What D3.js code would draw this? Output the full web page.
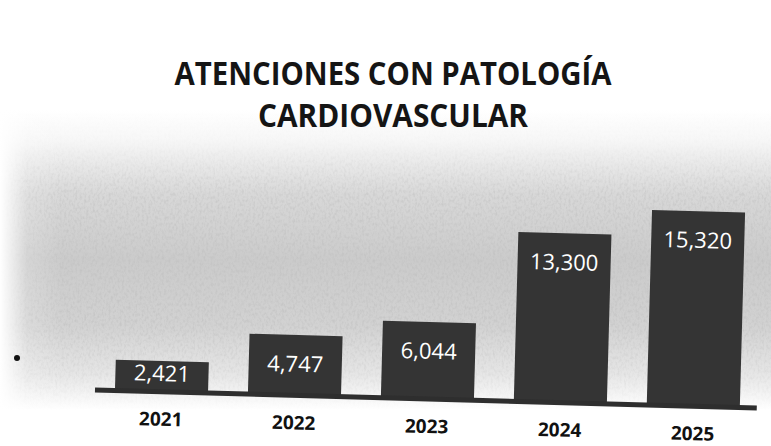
<!DOCTYPE html>
<html>
<head>
<meta charset="utf-8">
<script src="https://cdn.jsdelivr.net/npm/d3@7"></script>
<style>
  html, body { margin: 0; padding: 0; background: #fff; }
  svg { display: block; }
</style>
</head>
<body>
<div id="chart"></div>
<script>
const titleLines = ["ATENCIONES CON PATOLOGÍA", "CARDIOVASCULAR"];
const years = ["2021", "2022", "2023", "2024", "2025"];
const values = [2421, 4747, 6044, 13300, 15320];
const labels = ["2,421", "4,747", "6,044", "13,300", "15,320"];

const W = 771, H = 446;
const svg = d3.select("#chart").append("svg").attr("width", W).attr("height", H);
const defs = svg.append("defs");

// background gradient
const grad = defs.append("linearGradient").attr("id", "bgGrad")
  .attr("x1", 0).attr("y1", 0).attr("x2", 0).attr("y2", 1);
[[0, "#ffffff"], [0.1, "#f7f7f7"], [0.28, "#d8d8d8"], [0.5, "#cbcbcb"], [0.72, "#d2d2d2"], [0.88, "#e6e6e6"], [1, "#ffffff"]]
  .forEach(([o, c]) => grad.append("stop").attr("offset", o).attr("stop-color", c));

const ngrad = defs.append("linearGradient").attr("id", "nGrad")
  .attr("x1", 0).attr("y1", 0).attr("x2", 0).attr("y2", 1);
[[0, 0], [0.12, 0.1], [0.3, 0.9], [0.7, 1], [0.9, 0.4], [1, 0]]
  .forEach(([o, a]) => ngrad.append("stop").attr("offset", o).attr("stop-color", "#000").attr("stop-opacity", a));

const hgrad = defs.append("linearGradient").attr("id", "hGrad")
  .attr("x1", 0).attr("y1", 0).attr("x2", 1).attr("y2", 0);
[[0, "#fff", 1], [0.035, "#fff", 0.2], [0.08, "#fff", 0], [1, "#fff", 0]]
  .forEach(([o, c, a]) => hgrad.append("stop").attr("offset", o).attr("stop-color", c).attr("stop-opacity", a));

const noise = defs.append("filter").attr("id", "noise").attr("x", 0).attr("y", 0).attr("width", "100%").attr("height", "100%");
noise.append("feTurbulence").attr("type", "fractalNoise").attr("baseFrequency", "0.45 0.3").attr("numOctaves", 2).attr("seed", 4).attr("result", "t");
noise.append("feColorMatrix").attr("type", "matrix")
  .attr("values", "0 0 0 0 0.5  0 0 0 0 0.5  0 0 0 0 0.5  0 0 0 -2.4 1.4");
noise.append("feComposite").attr("in2", "SourceGraphic").attr("operator", "in");

svg.append("rect").attr("width", W).attr("height", H).attr("fill", "#fff");
svg.append("rect").attr("x", 0).attr("y", 110).attr("width", W).attr("height", 300).attr("fill", "url(#bgGrad)");
svg.append("rect").attr("x", 0).attr("y", 110).attr("width", W).attr("height", 300).attr("fill", "url(#nGrad)")
  .attr("filter", "url(#noise)").attr("opacity", 0.5);
svg.append("rect").attr("x", 0).attr("y", 110).attr("width", W).attr("height", 300).attr("fill", "url(#hGrad)");

// title
const title = svg.append("g").attr("font-family", "'Open Sans', sans-serif").attr("font-weight", 700)
  .attr("fill", "#151515").attr("text-anchor", "middle");
const titleLens = [437, 270];
titleLines.forEach((t, i) => {
  title.append("text").attr("x", 393).attr("y", 85 + i * 42)
    .attr("font-size", 32)
    .attr("textLength", titleLens[i]).attr("lengthAdjust", "spacingAndGlyphs")
    .text(t);
});

// chart group (slightly rotated like the scan)
const g = svg.append("g").attr("transform", "translate(95,390) rotate(1.55)");

const x = d3.scaleBand().domain(years).range([0, 665]).paddingInner(0.3).paddingOuter(0.15);
const y = d3.scaleLinear().domain([0, 16000]).range([0, -203.7]);

g.selectAll("rect.bar").data(values).join("rect").attr("class", "bar")
  .attr("x", (d, i) => x(years[i]))
  .attr("y", d => y(d))
  .attr("width", x.bandwidth())
  .attr("height", d => -y(d) + 1)
  .attr("fill", "#343434");

g.append("line").attr("x1", x.range()[0]).attr("x2", x.range()[1] - 3)
  .attr("y1", 0).attr("y2", 0).attr("stroke", "#2e2e2e").attr("stroke-width", 5);

g.selectAll("text.val").data(values).join("text").attr("class", "val")
  .attr("x", (d, i) => x(years[i]) + x.bandwidth() / 2)
  .attr("y", d => (-y(d) < 60 ? y(d) / 2 - 3 : y(d) + 29))
  .attr("dy", "0.35em")
  .attr("text-anchor", "middle")
  .attr("font-family", "'Open Sans', sans-serif")
  .attr("font-size", 22)
  .attr("fill", "#fff")
  .text((d, i) => labels[i]);

g.selectAll("text.yr").data(years).join("text").attr("class", "yr")
  .attr("x", d => x(d) + x.bandwidth() / 2)
  .attr("y", 34)
  .attr("text-anchor", "middle")
  .attr("font-family", "'Open Sans', sans-serif")
  .attr("font-weight", 700)
  .attr("font-size", 19)
  .attr("fill", "#111")
  .text(d => d);

// stray bullet from the scan
svg.append("circle").attr("cx", 17).attr("cy", 358).attr("r", 3).attr("fill", "#111");
</script>
</body>
</html>
